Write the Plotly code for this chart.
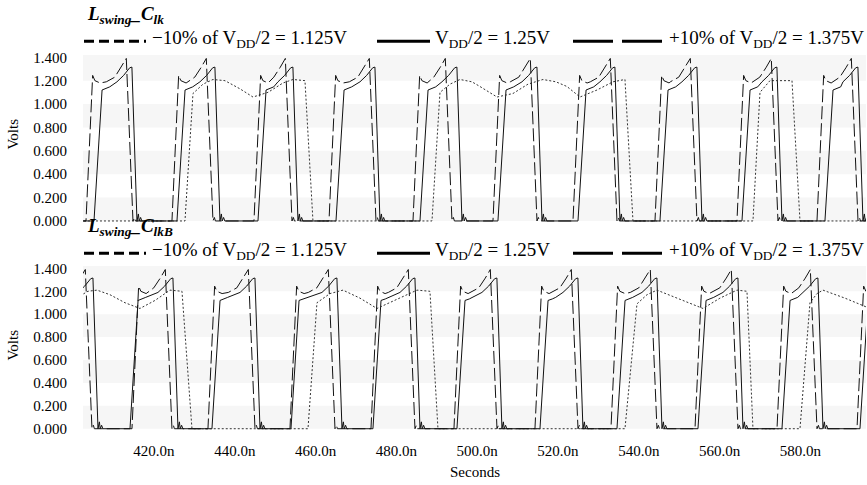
import plotly.graph_objects as go

W, H = 867, 485
FONT = "Liberation Serif"

# ---------------- data (time in ns, voltage in V) ----------------
x_tick_vals = [420, 440, 460, 480, 500, 520, 540, 560, 580]
x_tick_text = ["420.0n", "440.0n", "460.0n", "480.0n", "500.0n", "520.0n", "540.0n", "560.0n", "580.0n"]
y_tick_vals = [0.0, 0.2, 0.4, 0.6, 0.8, 1.0, 1.2, 1.4]
y_tick_text = ["0.000", "0.200", "0.400", "0.600", "0.800", "1.000", "1.200", "1.400"]

panel_titles = ["<b><i>L<sub>swing</sub>_C<sub>lk</sub></i></b>",
                "<b><i>L<sub>swing</sub>_C<sub>lkB</sub></i></b>"]
legend_labels = ["\u221210% of V<sub>DD</sub>/2 = 1.125V",
                 "V<sub>DD</sub>/2 = 1.25V",
                 "+10% of V<sub>DD</sub>/2 = 1.375V"]

# top panel (L_swing_C_lk): pulse edges
top_dash_rise = [403.17, 424.45, 444.75, 463.32, 484.11, 503.91, 523.71, 544.01, 564.30, 584.11]
top_dash_fall = [414.80, 434.60, 454.16, 474.95, 493.76, 514.80, 534.60, 554.40, 574.45, 594.26]
top_solid_rise = [405.15, 425.69, 445.74, 465.05, 485.84, 505.14, 524.95, 545.24, 565.54, 586.08]
top_solid_fall = [415.79, 436.33, 455.64, 475.94, 496.23, 516.04, 535.34, 555.64, 575.44, 595.49]
top_dot_t = [401.68, 427.67, 429.65, 432.13, 434.60, 437.57, 441.29, 444.50, 448.22, 451.93,
             454.40, 457.37, 459.35, 488.81, 490.79, 493.26, 495.74, 498.71, 500.69, 504.90,
             508.86, 512.57, 516.28, 519.50, 522.22, 525.44, 529.65, 533.61, 536.58, 538.56,
             568.26, 570.00, 572.47, 577.92, 579.90, 597.22]
top_dot_v = [0.0, 0.0, 1.09, 1.17, 1.21, 1.20, 1.13, 1.06, 1.10, 1.18,
             1.21, 1.20, 0.0, 0.0, 1.10, 1.17, 1.21, 1.19, 1.15, 1.06,
             1.09, 1.17, 1.21, 1.19, 1.15, 1.06, 1.12, 1.19, 1.21, 0.0,
             0.0, 1.10, 1.20, 1.20, 0.0, 0.0]

# bottom panel (L_swing_C_lkB)
bot_dash_rise = [393.51, 414.55, 433.36, 453.66, 473.71, 494.25, 514.30, 533.11, 553.91, 574.21, 594.01]
bot_dash_fall = [404.65, 424.45, 445.00, 464.80, 484.60, 504.90, 524.95, 544.50, 564.55, 584.11, 604.65]
bot_solid_rise = [395.49, 414.06, 434.35, 453.91, 474.20, 494.99, 515.54, 534.60, 554.65, 575.44, 594.75]
bot_solid_fall = [406.14, 425.94, 446.24, 466.53, 485.84, 506.13, 526.18, 545.74, 565.79, 585.59, 605.89]
bot_dot_t = [401.68, 403.66, 405.89, 409.11, 412.82, 416.53, 420.25, 423.96, 426.93, 429.40,
             458.12, 460.34, 463.56, 466.78, 470.99, 475.19, 480.15, 485.10, 488.31, 490.29,
             536.58, 539.55, 542.03, 544.50, 550.19, 555.89, 560.09, 564.30, 566.78, 568.26,
             579.90, 582.37, 584.11, 585.59, 591.04, 596.24, 597.22]
bot_dot_v = [1.16, 1.20, 1.21, 1.17, 1.10, 1.05, 1.12, 1.21, 1.20, 0.0,
             0.0, 1.10, 1.18, 1.21, 1.14, 1.05, 1.13, 1.21, 1.20, 0.0,
             0.0, 1.09, 1.17, 1.21, 1.13, 1.05, 1.14, 1.21, 1.20, 0.0,
             0.0, 1.10, 1.18, 1.21, 1.14, 1.06, 1.05]

# pulse shape (offsets from rise start / fall end, ns)
dash_head_dt = [1.65, 2.2, 3.5]
dash_head_v = [1.245, 1.20, 1.18]
dash_tail_dt = [-6.6, -4.5, -2.9, -1.65, 0.0, 0.15, 0.35, 0.6]
dash_tail_v = [1.19, 1.23, 1.315, 1.39, 0.0, -0.04, 0.03, 0.0]
solid_head_dt = [2.0, 3.05, 3.9]
solid_head_v = [1.12, 1.133, 1.147]
solid_tail_dt = [-4.95, -3.3, -1.8, -1.25, 0.0, 0.15, 0.35, 0.55, 0.9, 1.2]
solid_tail_v = [1.19, 1.245, 1.31, 1.316, 0.0, -0.05, 0.06, 0.0, 0.03, 0.0]


def pulse_train(rises, falls, head_dt, head_v, tail_dt, tail_v, t0=388.0, t1=612.0):
    t, v = [t0], [0.0]
    for r, f in zip(rises, falls):
        t.append(r); v.append(0.0)
        last = r
        for dt, vv in zip(head_dt, head_v):
            t.append(r + dt); v.append(vv); last = r + dt
        for dt, vv in zip(tail_dt, tail_v):
            if f + dt > last + 0.15:
                t.append(f + dt); v.append(vv); last = f + dt
    t.append(t1); v.append(0.0)
    return t, v


X_RANGE = [402.43, 596.24]
Y_RANGE = [-0.035, 1.42]
X_DOM = [83 / W, 866 / W]
Y_DOMS = [[0.5377, 0.8951], [0.1014, 0.4515]]

fig = go.Figure()

panels = [
    (top_dash_rise, top_dash_fall, top_solid_rise, top_solid_fall, top_dot_t, top_dot_v),
    (bot_dash_rise, bot_dash_fall, bot_solid_rise, bot_solid_fall, bot_dot_t, bot_dot_v),
]
for i, (dr, df, sr, sf, ot, ov) in enumerate(panels):
    xa = "x" if i == 0 else "x2"
    ya = "y" if i == 0 else "y2"
    tt, vv = pulse_train(sr, sf, solid_head_dt, solid_head_v, solid_tail_dt, solid_tail_v)
    fig.add_trace(go.Scatter(x=tt, y=vv, mode="lines", xaxis=xa, yaxis=ya,
                             line=dict(color="#111111", width=1), name=legend_labels[1]))
    fig.add_trace(go.Scatter(x=ot, y=ov, mode="lines", xaxis=xa, yaxis=ya,
                             line=dict(color="#333333", width=1, dash="2px,2px"), name=legend_labels[2]))
    tt, vv = pulse_train(dr, df, dash_head_dt, dash_head_v, dash_tail_dt, dash_tail_v)
    fig.add_trace(go.Scatter(x=tt, y=vv, mode="lines", xaxis=xa, yaxis=ya,
                             line=dict(color="#111111", width=1, dash="13px,4px"), name=legend_labels[0]))


def px(x):
    return x / W


def py(y):
    return 1 - y / H


shapes = []
annotations = []
for i in range(2):
    yref = "y" if i == 0 else "y2"
    xref = "x domain" if i == 0 else "x2 domain"
    for lo, hi in [(0.0, 0.2), (0.4, 0.6), (0.8, 1.0), (1.2, 1.42)]:
        shapes.append(dict(type="rect", xref=xref, x0=0, x1=1, yref=yref, y0=lo, y1=hi,
                           fillcolor="#f6f6f6", line=dict(width=0), layer="below"))

# legend rows (drawn in paper space)
legend_rows = [37, 253]
title_rows = [10, 226]
for i in range(2):
    ly = legend_rows[i]
    shapes.append(dict(type="line", xref="paper", yref="paper", x0=px(84), x1=px(146), y0=py(ly), y1=py(ly),
                       line=dict(color="black", width=3, dash="10px,5px")))
    shapes.append(dict(type="line", xref="paper", yref="paper", x0=px(377), x1=px(430), y0=py(ly), y1=py(ly),
                       line=dict(color="black", width=3)))
    shapes.append(dict(type="line", xref="paper", yref="paper", x0=px(573), x1=px(663), y0=py(ly), y1=py(ly),
                       line=dict(color="black", width=3, dash="40px,9px")))
    for xs, lab in zip([150, 433, 667], legend_labels):
        annotations.append(dict(xref="paper", yref="paper", x=px(xs), y=py(ly - 2), xanchor="left",
                                yanchor="middle", text=lab, showarrow=False,
                                font=dict(family=FONT, size=19, color="black")))
    annotations.append(dict(xref="paper", yref="paper", x=px(85), y=py(title_rows[i]), xanchor="left",
                            yanchor="middle", text=panel_titles[i], showarrow=False,
                            font=dict(family=FONT, size=19, color="black")))

annotations.append(dict(xref="paper", yref="paper", x=px(13), y=py(132), text="Volts", textangle=-90,
                        xanchor="center", yanchor="middle",
                        showarrow=False, font=dict(family=FONT, size=15, color="black")))
annotations.append(dict(xref="paper", yref="paper", x=px(13), y=py(347), text="Volts", textangle=-90,
                        xanchor="center", yanchor="middle",
                        showarrow=False, font=dict(family=FONT, size=15, color="black")))
annotations.append(dict(xref="paper", yref="paper", x=px(475), y=py(476), text="Seconds",
                        xanchor="center", yanchor="middle",
                        showarrow=False, font=dict(family=FONT, size=15, color="black")))

axis_common = dict(showgrid=False, zeroline=False, showline=False, ticks="")
fig.update_layout(
    width=W, height=H, margin=dict(l=0, r=0, t=0, b=0),
    plot_bgcolor="white", paper_bgcolor="white", showlegend=False,
    font=dict(family=FONT, size=15, color="black"),
    xaxis=dict(domain=X_DOM, range=X_RANGE, anchor="y", showticklabels=False, **axis_common),
    xaxis2=dict(domain=X_DOM, range=X_RANGE, anchor="y2", tickvals=x_tick_vals, ticktext=x_tick_text,
                tickfont=dict(family=FONT, size=15, color="black"), ticklabelstandoff=7, **axis_common),
    yaxis=dict(domain=Y_DOMS[0], range=Y_RANGE, anchor="x", tickvals=y_tick_vals, ticktext=y_tick_text,
               tickfont=dict(family=FONT, size=15, color="black"), ticklabelstandoff=15, **axis_common),
    yaxis2=dict(domain=Y_DOMS[1], range=Y_RANGE, anchor="x2", tickvals=y_tick_vals, ticktext=y_tick_text,
                tickfont=dict(family=FONT, size=15, color="black"), ticklabelstandoff=15, **axis_common),
    shapes=shapes, annotations=annotations,
)

fig.write_html("out.html")
